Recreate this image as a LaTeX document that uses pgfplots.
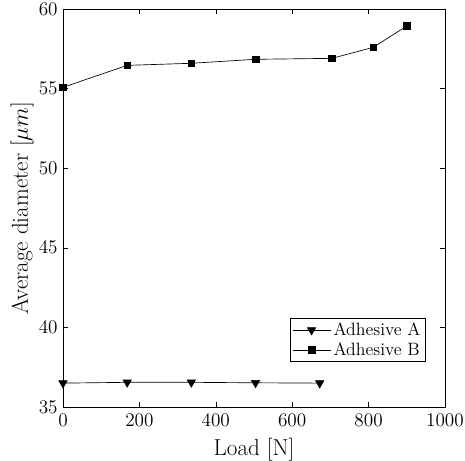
\documentclass[border=0pt]{standalone}
\usepackage{pgfplots}
\pgfplotsset{compat=1.18}
\begin{document}
\begin{tikzpicture}
\begin{axis}[
  width=286.5pt, height=298.5pt,
  scale only axis,
  xmin=0, xmax=1000, ymin=35, ymax=60,
  xtick={0,200,...,1000}, ytick={35,40,...,60},
  /pgf/number format/1000 sep={},
  tick align=inside,
  major tick length=3.5pt,
  tick style={black, line width=0.4pt},
  axis line style={line width=0.5pt},
  xlabel={Load [N]},
  ylabel={Average diameter [$\mu m$]},
  every tick label/.append style={font=\fontsize{15.8}{19}\selectfont},
  xticklabel style={yshift=-1.5pt},
  yticklabel style={xshift=-0.5pt},
  label style={font=\fontsize{17.3}{20}\selectfont},
  xlabel style={at={(axis description cs:0.5,-0.108)}, anchor=center},
  ylabel style={at={(axis description cs:-0.107,0.5)}, anchor=center},
  legend cell align=left,
  legend style={at={(0.948,0.113)}, anchor=south east, draw=black,
    font=\fontsize{13.4}{16}\selectfont, inner sep=1.2pt,
    row sep=0pt},
  legend image code/.code={
    \draw[mark repeat=2,mark phase=2,#1] plot coordinates {(0cm,0cm) (0.5cm,0cm) (1cm,0cm)};},
]
\addplot[black, line width=0.5pt, mark=triangle*, mark size=3.6pt,
  mark options={rotate=180, fill=black}]
  coordinates {(0,36.50) (168,36.55) (336,36.55) (504,36.52) (672,36.50)};
\addlegendentry{Adhesive A}
\addplot[black, line width=0.5pt, mark=square*, mark size=2.5pt,
  mark options={fill=black}]
  coordinates {(0,55.08) (168,56.46) (336,56.59) (504,56.84) (704,56.90) (812,57.59) (900,58.93)};
\addlegendentry{Adhesive B}
\coordinate (lowleft) at (rel axis cs:0,0);
\coordinate (upright) at (rel axis cs:1,1);
\end{axis}
% fixed canvas around the plot area
\pgfresetboundingbox
\path ([shift={(-47.25pt,-40.5pt)}]lowleft) rectangle ([shift={(15pt,6.75pt)}]upright);
\end{tikzpicture}
\end{document}
